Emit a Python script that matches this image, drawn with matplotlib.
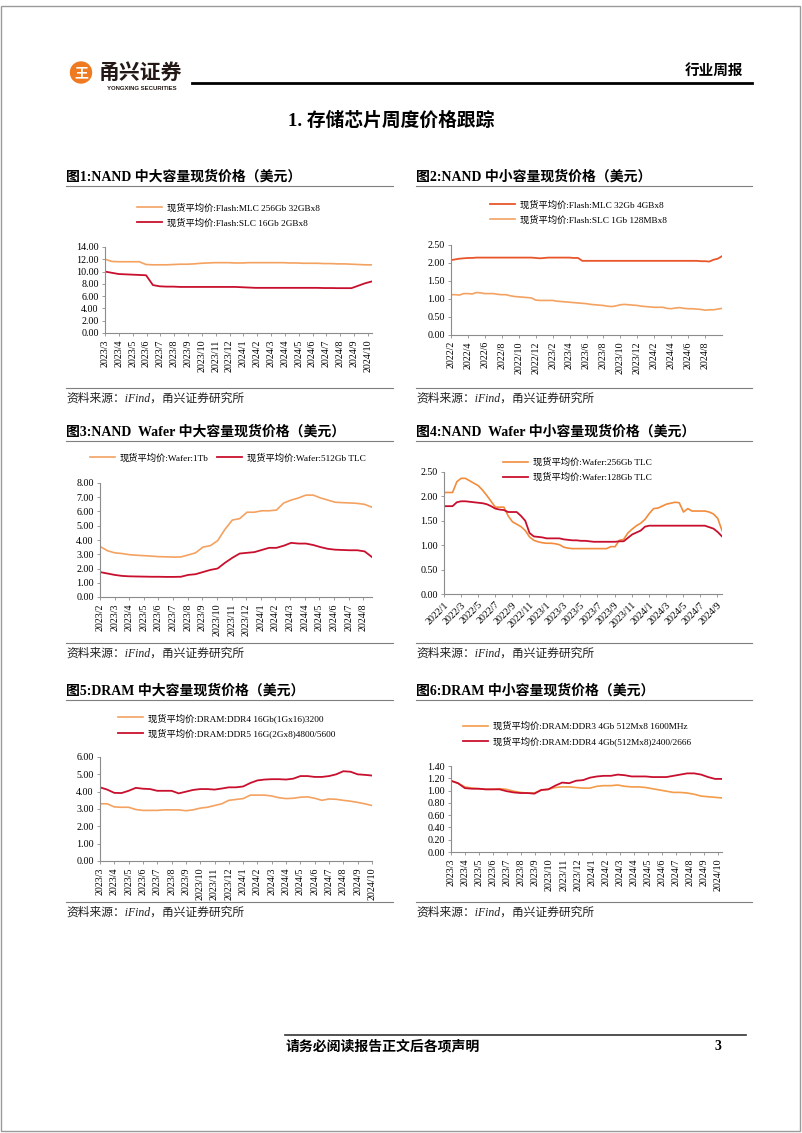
import numpy as np
import matplotlib
matplotlib.use("Agg")
import matplotlib.pyplot as plt
from matplotlib.patches import Circle, Rectangle
from matplotlib.ticker import FormatStrFormatter

plt.rcParams['font.family'] = ['Liberation Serif', 'Noto Sans CJK SC']
plt.rcParams['axes.unicode_minus'] = False

W, H = 802, 1133

# ---------------- data (half-month readings) ----------------
c1_labels = ['2023/3', '2023/4', '2023/5', '2023/6', '2023/7', '2023/8', '2023/9', '2023/10',
             '2023/11', '2023/12', '2024/1', '2024/2', '2024/3', '2024/4', '2024/5', '2024/6',
             '2024/7', '2024/8', '2024/9', '2024/10']
c1_mlc = [12.0, 11.65, 11.6, 11.6, 11.6, 11.6, 11.15, 11.1, 11.1, 11.1,
          11.15, 11.2, 11.2, 11.25, 11.35, 11.4, 11.45, 11.45, 11.45, 11.4,
          11.4, 11.45, 11.45, 11.45, 11.45, 11.45, 11.45, 11.4, 11.4, 11.35,
          11.35, 11.35, 11.3, 11.3, 11.25, 11.25, 11.2, 11.15, 11.1, 11.1]
c1_slc = [10.0, 9.8, 9.6, 9.55, 9.5, 9.45, 9.4, 7.8, 7.6, 7.55,
          7.55, 7.5, 7.5, 7.5, 7.5, 7.5, 7.5, 7.5, 7.5, 7.5,
          7.45, 7.4, 7.35, 7.35, 7.35, 7.35, 7.35, 7.35, 7.35, 7.35,
          7.35, 7.35, 7.32, 7.32, 7.3, 7.3, 7.3, 7.7, 8.1, 8.4]

c2_labels = ['2022/2', '2022/4', '2022/6', '2022/8', '2022/10', '2022/12', '2023/2', '2023/4',
             '2023/6', '2023/8', '2023/10', '2023/12', '2024/2', '2024/4', '2024/6', '2024/8']
c2_mlc = [2.08, 2.10, 2.12, 2.13, 2.14, 2.14, 2.15, 2.15, 2.15, 2.15,
          2.15, 2.15, 2.15, 2.15, 2.15, 2.15, 2.15, 2.15, 2.15, 2.15,
          2.14, 2.13, 2.14, 2.15, 2.15, 2.15, 2.15, 2.15, 2.15, 2.14,
          2.14, 2.06, 2.06, 2.06, 2.06, 2.06, 2.06, 2.06, 2.06, 2.06,
          2.06, 2.06, 2.06, 2.06, 2.06, 2.06, 2.06, 2.06, 2.06, 2.06,
          2.06, 2.06, 2.06, 2.06, 2.06, 2.06, 2.06, 2.06, 2.06, 2.05,
          2.05, 2.04, 2.09, 2.12, 2.19]
c2_slc = [1.12, 1.12, 1.11, 1.15, 1.15, 1.14, 1.18, 1.17, 1.15, 1.15,
          1.15, 1.13, 1.12, 1.12, 1.09, 1.07, 1.06, 1.05, 1.04, 1.03,
          0.97, 0.96, 0.96, 0.96, 0.96, 0.94, 0.93, 0.92, 0.91, 0.90,
          0.89, 0.88, 0.87, 0.85, 0.84, 0.83, 0.82, 0.80, 0.79, 0.81,
          0.84, 0.85, 0.84, 0.83, 0.82, 0.80, 0.79, 0.78, 0.77, 0.77,
          0.77, 0.74, 0.73, 0.75, 0.76, 0.74, 0.73, 0.73, 0.72, 0.71,
          0.69, 0.70, 0.70, 0.72, 0.74]

c3_labels = ['2023/2', '2023/3', '2023/4', '2023/5', '2023/6', '2023/7', '2023/8', '2023/9',
             '2023/10', '2023/11', '2023/12', '2024/1', '2024/2', '2024/3', '2024/4', '2024/5',
             '2024/6', '2024/7', '2024/8']
c3_1tb = [3.55, 3.25, 3.1, 3.05, 2.97, 2.93, 2.9, 2.87, 2.83, 2.82,
          2.8, 2.81, 2.95, 3.1, 3.5, 3.6, 3.95, 4.75, 5.4, 5.5,
          5.95, 5.95, 6.05, 6.05, 6.1, 6.6, 6.8, 6.95, 7.15, 7.15,
          6.95, 6.8, 6.65, 6.62, 6.6, 6.57, 6.5, 6.3]
c3_512 = [1.75, 1.65, 1.55, 1.48, 1.45, 1.44, 1.43, 1.42, 1.42, 1.41,
          1.41, 1.42, 1.55, 1.6, 1.75, 1.9, 2.0, 2.4, 2.75, 3.05,
          3.1, 3.15, 3.3, 3.45, 3.45, 3.6, 3.8, 3.75, 3.75, 3.65,
          3.5, 3.38, 3.32, 3.3, 3.28, 3.28, 3.2, 2.8]

c4_labels = ['2022/1', '2022/3', '2022/5', '2022/7', '2022/9', '2022/11', '2023/1', '2023/3',
             '2023/5', '2023/7', '2023/9', '2023/11', '2024/1', '2024/3', '2024/5', '2024/7',
             '2024/9']
c4_256 = [2.08, 2.08, 2.08, 2.3, 2.37, 2.37, 2.32, 2.27, 2.22, 2.13,
          2.02, 1.9, 1.78, 1.78, 1.78, 1.6, 1.48, 1.43, 1.38, 1.3,
          1.17, 1.1, 1.07, 1.05, 1.04, 1.04, 1.03, 1.01, 0.96, 0.94,
          0.93, 0.93, 0.93, 0.93, 0.93, 0.93, 0.93, 0.93, 0.93, 0.97,
          0.97, 1.1, 1.12, 1.25, 1.33, 1.4, 1.45, 1.53, 1.65, 1.75,
          1.76, 1.8, 1.84, 1.86, 1.88, 1.87, 1.68, 1.75, 1.7, 1.7,
          1.7, 1.7, 1.68, 1.64, 1.55, 1.3]
c4_128 = [1.8, 1.8, 1.8, 1.88, 1.9, 1.9, 1.89, 1.88, 1.87, 1.86,
          1.84, 1.8, 1.75, 1.73, 1.72, 1.68, 1.68, 1.68, 1.6, 1.5,
          1.25, 1.18, 1.17, 1.16, 1.14, 1.14, 1.14, 1.14, 1.12, 1.11,
          1.1, 1.1, 1.09, 1.09, 1.08, 1.07, 1.07, 1.07, 1.07, 1.07,
          1.07, 1.08, 1.08, 1.15, 1.22, 1.26, 1.3, 1.38, 1.4, 1.4,
          1.4, 1.4, 1.4, 1.4, 1.4, 1.4, 1.4, 1.4, 1.4, 1.4,
          1.4, 1.4, 1.37, 1.34, 1.27, 1.18]

c5_labels = c1_labels
c5_ddr4 = [3.3, 3.3, 3.12, 3.1, 3.1, 2.97, 2.92, 2.92, 2.92, 2.95,
           2.95, 2.95, 2.9, 2.95, 3.05, 3.1, 3.2, 3.3, 3.5, 3.55,
           3.6, 3.8, 3.8, 3.8, 3.75, 3.65, 3.6, 3.62, 3.68, 3.7,
           3.62, 3.5, 3.58, 3.56, 3.5, 3.45, 3.38, 3.3, 3.2]
c5_ddr5 = [4.25, 4.12, 3.93, 3.92, 4.05, 4.22, 4.17, 4.15, 4.05, 4.05,
           4.05, 3.9, 4.0, 4.1, 4.15, 4.15, 4.12, 4.18, 4.25, 4.25,
           4.3, 4.5, 4.65, 4.7, 4.72, 4.72, 4.7, 4.75, 4.9, 4.9,
           4.85, 4.85, 4.9, 5.0, 5.18, 5.15, 5.0, 4.97, 4.93]

c6_labels = c1_labels
c6_ddr3 = [1.16, 1.12, 1.06, 1.04, 1.03, 1.02, 1.02, 1.03, 1.02, 0.99,
           0.97, 0.96, 0.96, 1.01, 1.02, 1.05, 1.06, 1.06, 1.05, 1.04,
           1.04, 1.07, 1.08, 1.08, 1.09, 1.07, 1.06, 1.06, 1.05, 1.03,
           1.01, 0.99, 0.97, 0.97, 0.96, 0.94, 0.91, 0.90, 0.89, 0.88]
c6_ddr4 = [1.16, 1.12, 1.04, 1.03, 1.03, 1.02, 1.02, 1.02, 0.99, 0.97,
           0.96, 0.96, 0.95, 1.01, 1.02, 1.08, 1.13, 1.12, 1.16, 1.17,
           1.21, 1.23, 1.24, 1.24, 1.26, 1.25, 1.23, 1.23, 1.23, 1.22,
           1.22, 1.22, 1.24, 1.26, 1.28, 1.28, 1.26, 1.22, 1.19, 1.19]

ORANGE = '#F4A261'
RED = '#C8102E'

fig = plt.figure(figsize=(W / 100, H / 100), dpi=100, facecolor='white')

# page layer in pixel coordinates
page = fig.add_axes([0, 0, 1, 1])
page.set_xlim(0, W)
page.set_ylim(H, 0)
page.axis('off')


def make_axes(left, right, top, bottom):
    return fig.add_axes([left / W, 1 - bottom / H, (right - left) / W, (bottom - top) / H])


def style_axes(ax, ymax, ystep, xmax, ticks, labels, rot=90):
    ax.set_xlim(0, xmax)
    ax.set_ylim(0, ymax)
    ax.set_yticks(np.arange(0, ymax + ystep / 2, ystep))
    ax.yaxis.set_major_formatter(FormatStrFormatter('%.2f'))
    ax.set_xticks(ticks)
    if rot == 90:
        ax.set_xticklabels(labels, rotation=90)
    else:
        ax.set_xticklabels(labels, rotation=45, ha='right', rotation_mode='anchor')
    for s in ['top', 'right']:
        ax.spines[s].set_visible(False)
    for s in ['left', 'bottom']:
        ax.spines[s].set_color('#8c8c8c')
        ax.spines[s].set_linewidth(0.8)
    ax.tick_params(length=2.5, width=0.6, color='#8c8c8c', labelsize=7.2, pad=2)
    ax.patch.set_alpha(0)


def add_legend(ax, x, y, ncol=1):
    ax.legend(loc='center left', bbox_to_anchor=(x / W, 1 - y / H), bbox_transform=fig.transFigure,
              frameon=False, fontsize=6.7, borderpad=0, borderaxespad=0, handlelength=2.7,
              handletextpad=0.5, labelspacing=0.6, ncol=ncol, columnspacing=0.9)


def frame_text(x, y_line, y_src, x_end):
    page.plot([x, x_end], [y_line, y_line], color='#7f7f7f', lw=0.8)
    page.plot([x, x_end], [y_src - 11, y_src - 11], color='#7f7f7f', lw=0.8)
    page.text(x, y_src, '资料来源：iFind，甬兴证券研究所', fontsize=8.5, style='italic',
              va='center', ha='left', color='#222222')


# ---------------- chart 1 ----------------
ax1 = make_axes(105, 372, 247, 333)
x1 = np.linspace(0, 19.3, len(c1_mlc))
ax1.plot(x1, c1_mlc, color=ORANGE, lw=1.2, label='现货平均价:Flash:MLC 256Gb 32GBx8')
ax1.plot(x1, c1_slc, color=RED, lw=1.3, label='现货平均价:Flash:SLC 16Gb 2GBx8')
style_axes(ax1, 14, 2, 19.3, np.arange(len(c1_labels)), c1_labels)
add_legend(ax1, 137, 215.5)

# ---------------- chart 2 ----------------
ax2 = make_axes(451, 722, 245, 335)
x2 = np.linspace(0, 32, len(c2_mlc))
ax2.plot(x2, c2_mlc, color='#E8562A', lw=1.3, label='现货平均价:Flash:MLC 32Gb 4GBx8')
ax2.plot(x2, c2_slc, color=ORANGE, lw=1.2, label='现货平均价:Flash:SLC 1Gb 128MBx8')
style_axes(ax2, 2.5, 0.5, 32, np.arange(len(c2_labels)) * 2, c2_labels)
add_legend(ax2, 490, 212.5)

# ---------------- chart 3 ----------------
ax3 = make_axes(100, 372, 483, 597)
x3 = np.linspace(0, 18.6, len(c3_1tb))
ax3.plot(x3, c3_1tb, color=ORANGE, lw=1.2, label='现货平均价:Wafer:1Tb')
ax3.plot(x3, c3_512, color=RED, lw=1.3, label='现货平均价:Wafer:512Gb TLC')
style_axes(ax3, 8, 1, 18.6, np.arange(len(c3_labels)), c3_labels)
add_legend(ax3, 90, 458, ncol=2)

# ---------------- chart 4 ----------------
ax4 = make_axes(444, 722, 472, 594)
x4 = np.linspace(0, 32.6, len(c4_256))
ax4.plot(x4, c4_256, color='#F28C3C', lw=1.2, label='现货平均价:Wafer:256Gb TLC')
ax4.plot(x4, c4_128, color=RED, lw=1.3, label='现货平均价:Wafer:128Gb TLC')
style_axes(ax4, 2.5, 0.5, 32.6, np.arange(len(c4_labels)) * 2, c4_labels, rot=45)
add_legend(ax4, 503, 470)

# ---------------- chart 5 ----------------
ax5 = make_axes(100, 372, 757, 861)
x5 = np.linspace(0, 19.0, len(c5_ddr4))
ax5.plot(x5, c5_ddr4, color=ORANGE, lw=1.2, label='现货平均价:DRAM:DDR4 16Gb(1Gx16)3200')
ax5.plot(x5, c5_ddr5, color=RED, lw=1.3, label='现货平均价:DRAM:DDR5 16G(2Gx8)4800/5600')
style_axes(ax5, 6, 1, 19.0, np.arange(len(c5_labels)), c5_labels)
add_legend(ax5, 118, 725.5)

# ---------------- chart 6 ----------------
ax6 = make_axes(451, 722, 766, 852)
x6 = np.linspace(0, 19.25, len(c6_ddr3))
ax6.plot(x6, c6_ddr3, color='#F39C4A', lw=1.2, label='现货平均价:DRAM:DDR3 4Gb 512Mx8 1600MHz')
ax6.plot(x6, c6_ddr4, color=RED, lw=1.3, label='现货平均价:DRAM:DDR4 4Gb(512Mx8)2400/2666')
style_axes(ax6, 1.4, 0.2, 19.25, np.arange(len(c6_labels)), c6_labels)
add_legend(ax6, 463, 734)

# ---------------- chart titles and sources ----------------
titles = [
    (66, 177, '图1:NAND 中大容量现货价格（美元）'),
    (416, 177, '图2:NAND 中小容量现货价格（美元）'),
    (66, 432, '图3:NAND  Wafer 中大容量现货价格（美元）'),
    (416, 432, '图4:NAND  Wafer 中小容量现货价格（美元）'),
    (66, 691, '图5:DRAM 中大容量现货价格（美元）'),
    (416, 691, '图6:DRAM 中小容量现货价格（美元）'),
]
for tx, ty, tt in titles:
    page.text(tx, ty, tt, fontsize=10, fontweight='bold', va='center', ha='left', color='black')

for row_y in [177, 432, 691]:
    frame_text(66, row_y + 9, row_y + 222, 393)
    frame_text(416, row_y + 9, row_y + 222, 752)

# ---------------- page header / footer ----------------
page.add_patch(Rectangle((1, 6), 799, 1125, fill=False, edgecolor='#9a9a9a', lw=1))
page.add_patch(Circle((81, 72.5), 10.5, color='#EE7A22'))
page.text(81, 73, '王', color='white', fontsize=10, fontweight='bold', ha='center', va='center',
          family='Noto Sans CJK SC')
page.text(99, 72, '甬兴证券', fontsize=15, fontweight='bold', family='Noto Sans CJK SC',
          va='center', ha='left', color='#231815')
page.text(107, 88, 'YONGXING SECURITIES', fontsize=4.3, fontweight='bold', family='Liberation Sans',
          va='center', ha='left', color='#231815')
page.plot([192, 752], [83, 83], color='black', lw=2)
page.text(743, 70, '行业周报', fontsize=10.5, fontweight='bold', family='Noto Sans CJK SC',
          va='center', ha='right')
page.text(391, 121, '1. 存储芯片周度价格跟踪', fontsize=13.5, fontweight='bold', va='center', ha='center')

page.plot([285, 746], [1035, 1035], color='#333333', lw=1.2)
page.text(286, 1047, '请务必阅读报告正文后各项声明', fontsize=10, fontweight='bold', va='center', ha='left')
page.text(718, 1047, '3', fontsize=10, fontweight='bold', va='center', ha='center')

fig.savefig('out.png', dpi=100, facecolor='white')
